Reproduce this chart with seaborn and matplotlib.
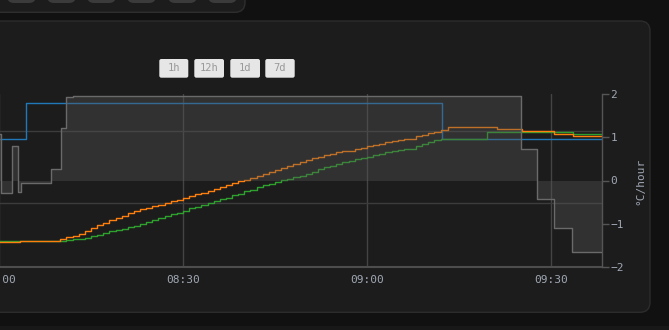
import matplotlib
matplotlib.use("Agg")
import matplotlib.pyplot as plt
import seaborn as sns
from matplotlib.patches import FancyBboxPatch, Rectangle
from matplotlib.transforms import IdentityTransform
from matplotlib.ticker import FixedLocator, FuncFormatter

# ---------------- data (time = minutes after 08:00) ----------------
rise_minutes = list(range(10, 73))

orange_rise = [19.51, 19.53, 19.55, 19.57, 19.62, 19.66, 19.70, 19.73, 19.77, 19.80,
               19.83, 19.86, 19.89, 19.92, 19.94, 19.96, 19.98, 20.01, 20.03, 20.05,
               20.07, 20.10, 20.13, 20.15, 20.17, 20.20, 20.22, 20.25, 20.28, 20.31,
               20.33, 20.35, 20.38, 20.41, 20.43, 20.46, 20.49, 20.52, 20.55, 20.58,
               20.60, 20.63, 20.65, 20.67, 20.69, 20.71, 20.72, 20.73, 20.75, 20.77,
               20.79, 20.81, 20.83, 20.85, 20.87, 20.88, 20.89, 20.90, 20.93, 20.95,
               20.97, 20.99, 21.02]
green_rise = [19.48, 19.49, 19.50, 19.51, 19.525, 19.54, 19.56, 19.585, 19.61, 19.63,
              19.65, 19.67, 19.69, 19.71, 19.74, 19.77, 19.80, 19.82, 19.85, 19.87,
              19.90, 19.93, 19.95, 19.98, 20.01, 20.03, 20.055, 20.08, 20.11, 20.13,
              20.17, 20.19, 20.22, 20.25, 20.27, 20.30, 20.32, 20.34, 20.36, 20.38,
              20.41, 20.44, 20.47, 20.50, 20.52, 20.55, 20.57, 20.59, 20.61, 20.63,
              20.65, 20.67, 20.69, 20.71, 20.73, 20.74, 20.75, 20.76, 20.80, 20.83,
              20.855, 20.875, 20.89]

orange_t = [-7, 3.4] + rise_minutes + [73.2, 81.2, 85.3, 87.7, 90.5, 93.6, 99]
orange_v = [19.46, 19.47] + orange_rise + [21.06, 21.03, 21.01, 21.00, 20.96, 20.93, 20.93]

green_t = [-7] + rise_minutes + [73.2, 79.5, 93.6, 99]
green_v = [19.47] + green_rise + [20.90, 20.99, 20.96, 20.96]

setpoint_t = [-7, 4.4, 72.2, 99]
setpoint_v = [20.90, 21.39, 20.90, 20.90]

rate_t = [-7, 0.3, 2.07, 3.15, 3.54, 8.43, 10.1, 10.93, 12.11, 85.1, 87.7, 90.5, 93.5, 99]
rate_v = [1.07, -0.28, 0.80, -0.26, -0.05, 0.26, 1.21, 1.94, 1.97, 0.74, -0.42, -1.11, -1.67, -1.67]

x_ticks = [0, 30, 60, 90]
rate_ticks = [-2, -1, 0, 1, 2]
range_buttons = ["1h", "12h", "1d", "7d"]
rate_label = "°C/hour"

# ---------------- styling ----------------
sns.set_style("dark")
plt.rcParams['font.family'] = ['DejaVu Sans Mono', 'DejaVu Sans']

W, H = 669, 330
fig = plt.figure(figsize=(W / 100, H / 100), dpi=100, facecolor="#111111")
idt = IdentityTransform()

def box(x0, y0, x1, y1, fc, ec="none", r=0, z=-10, lw=1.0):
    # pixel coords, y measured from the top
    p = FancyBboxPatch((x0, H - y1), x1 - x0, y1 - y0,
                       boxstyle=f"round,pad=0,rounding_size={r}",
                       facecolor=fc, edgecolor=ec, linewidth=lw,
                       transform=idt, zorder=z)
    fig.add_artist(p)

# background pieces
fig.add_artist(Rectangle((0, 0), W, 4, facecolor="#181818", edgecolor="none",
                         transform=idt, zorder=-12))
box(-20, -20, 245, 12.3, "#1c1c1c", "#2e2e2e", r=10)
for bx0, bx1 in [(7, 36), (47, 76), (87, 116), (127, 156), (168, 197), (208, 237)]:
    box(bx0, -15, bx1, 3, "#3b3b3b", r=7, z=-9)
box(-20, 21, 650, 312.3, "#1c1c1c", "#2c2c2c", r=10)

# range buttons
btn_boxes = [(159.3, 188.3), (194.3, 224), (230.3, 260), (265.3, 294.7)]
for (bx0, bx1), lab in zip(btn_boxes, range_buttons):
    box(bx0, 59, bx1, 77.7, "#e6e6e6", r=2, z=5)
    fig.text((bx0 + bx1) / 2, H - 68.3, lab, transform=idt, ha="center", va="center",
             color="#999999", fontsize=7.5, zorder=6)

# axes: pixel box x -40..601.7, y 94.3..266.7
left_px, right_px, top_px, bot_px = -40, 601.7, 94.3, 266.7
ax = fig.add_axes([left_px / W, 1 - bot_px / H, (right_px - left_px) / W, (bot_px - top_px) / H])
ax.set_facecolor("none")
ax2 = ax.twinx()

t_left = (left_px + 1) * 30 / 184
t_right = (right_px + 1) * 30 / 184

# temperature series (left axis, labels cropped)
sns.lineplot(x=setpoint_t, y=setpoint_v, ax=ax, drawstyle="steps-post", color="#2178b8",
             lw=1.0, estimator=None, legend=False)
sns.lineplot(x=green_t, y=green_v, ax=ax, drawstyle="steps-post", color="#2ea02e",
             lw=1.0, estimator=None, legend=False)
sns.lineplot(x=orange_t, y=orange_v, ax=ax, drawstyle="steps-post", color="#ff7f0e",
             lw=1.0, estimator=None, legend=False)

ax.set_xlim(t_left, t_right)
ax.set_ylim(21 - (bot_px - 131.3) / 72, 21 + (131.3 - top_px) / 72)
ax.yaxis.set_major_locator(FixedLocator([20, 21]))
ax.xaxis.set_major_locator(FixedLocator(x_ticks))
ax.xaxis.set_major_formatter(FuncFormatter(lambda t, p: f"{8 + int(t // 60):02d}:{int(t % 60):02d}"))
ax.grid(True, axis="y", color="#3c3c3c", lw=1.0)
ax.grid(True, axis="x", color="#444444", lw=1.0)
ax.set_axisbelow(True)
for s in ["left", "top", "right"]:
    ax.spines[s].set_visible(False)
ax.spines["bottom"].set_color("#4d4d4d")
ax.spines["bottom"].set_linewidth(1.5)
ax.tick_params(axis="y", left=False, labelleft=False)
ax.tick_params(axis="x", colors="#4d4d4d", length=4.8, width=1.0, pad=1.5,
               labelcolor="#a0a8b4", labelsize=8)
ax.set_xlabel("")
ax.set_ylabel("")

# rate (right axis), drawn over the temperature lines
ax2.fill_between(rate_t, rate_v, 0, step="post", color="#555555", alpha=0.38, lw=0, zorder=2)
sns.lineplot(x=rate_t, y=rate_v, ax=ax2, drawstyle="steps-post", color="#6a6a6a",
             lw=1.0, estimator=None, legend=False, zorder=3)
ax2.set_xlim(t_left, t_right)
ax2.set_ylim(-2, 2)
ax2.yaxis.set_major_locator(FixedLocator(rate_ticks))
ax2.grid(False)
for s in ["left", "top", "bottom"]:
    ax2.spines[s].set_visible(False)
ax2.spines["right"].set_color("#555555")
ax2.spines["right"].set_linewidth(1.0)
ax2.tick_params(axis="y", right=True, colors="#555555", length=4.8, width=1.0, pad=1.5,
                labelcolor="#a0a8b4", labelsize=8)
ax2.set_ylabel("")
fig.text(640, H - 181, rate_label, transform=idt, rotation=90, ha="center", va="center",
         color="#a0a8b4", fontsize=8)

fig.savefig("out.png", dpi=100, facecolor=fig.get_facecolor())
